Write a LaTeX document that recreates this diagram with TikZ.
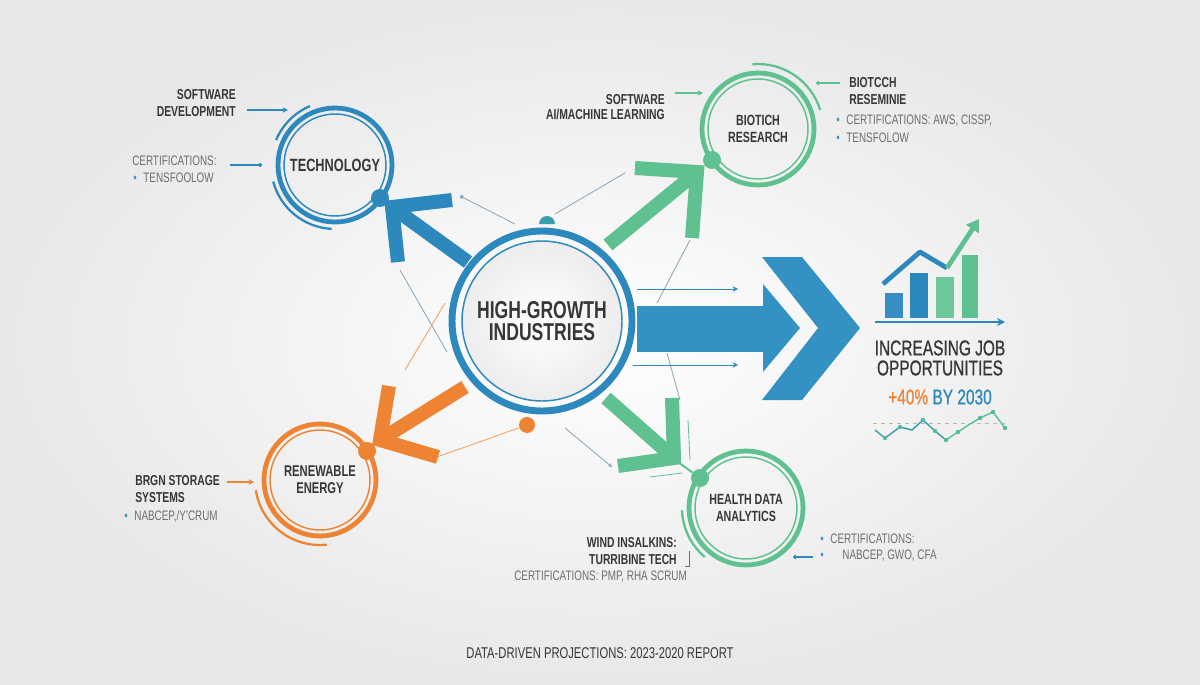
\documentclass[tikz,border=0pt]{standalone}
\usepackage{fontspec}
\setmainfont[FakeStretch=0.72]{Liberation Sans}
\usetikzlibrary{arrows.meta,positioning}
\definecolor{techblue}{RGB}{45,136,190}
\definecolor{bigblue}{RGB}{51,145,196}
\definecolor{biogreen}{RGB}{94,193,143}
\definecolor{energyorange}{RGB}{238,132,51}
\definecolor{inkgray}{RGB}{55,55,55}
\definecolor{softgray}{RGB}{110,110,110}
\definecolor{dotteal}{RGB}{58,158,176}
\definecolor{wiregray}{RGB}{135,165,185}
\definecolor{bggray}{RGB}{232,232,232}
\newcommand{\bul}{\textcolor{dotteal}{\textbullet}}

\begin{document}
\begin{tikzpicture}[x=0.75pt,y=-0.75pt,
    ring/.style={circle,draw=#1,line width=3.6pt,inner sep=0,align=center},
    innerring/.style={draw=#1,line width=1.1pt},
    halo/.style={draw=#1,line width=1.7pt},
    fatarrow/.style={draw=#1,line width=10.5pt,miter limit=6},
    wire/.style={draw=#1,line width=0.6pt},
    hubdot/.style={circle,fill=#1,minimum size=13.5pt,inner sep=0},
    heading/.style={font=\bfseries\fontsize{10.8}{12.6}\selectfont,text=inkgray,inner sep=0},
    cert/.style={font=\fontsize{10.3}{12.6}\selectfont,text=softgray,inner sep=0},
    circtext/.style={font=\bfseries\fontsize{11.1}{13}\selectfont,text=inkgray},
    charttext/.style={font=\addfontfeature{FakeBold=0.8}\fontsize{16.1}{15}\selectfont}
  ]
  % background
  \shade[inner color=white!97!bggray,outer color=bggray] (0,0) rectangle (1200,685);
  \useasboundingbox (0,0) rectangle (1200,685);

  % thin decorative wires
  \draw[wire=wiregray,{Circle[length=3pt]}-] (460,196) -- (515,224);
  \draw[wire=wiregray] (555,214) -- (625,173);
  \draw[wire=wiregray] (400,270) -- (447,352);
  \draw[wire=energyorange!80] (445,303) -- (405,370);
  \draw[wire=wiregray] (690,240) -- (657,303);
  \draw[wire=wiregray] (667,353) -- (680,400);
  \draw[wire=wiregray,-{Stealth[length=3pt,width=3pt]}] (565,428) -- (612,467);
  \draw[wire=biogreen] (688,420) -- (690,460);
  \draw[wire=biogreen] (650,477) -- (682,473);
  \draw[wire=techblue,-{Stealth[length=4pt,width=4pt]}] (637,289) -- (738,289);
  \draw[wire=techblue,-{Stealth[length=4pt,width=4pt]}] (633,365) -- (738,365);

  % central hub
  \shade[inner color=white,outer color=bggray!80] (542,321) circle[radius=80];
  \node[ring=techblue,line width=5.2pt,minimum size=135pt] (hub) at (542,321) {};
  \draw[innerring=techblue] (hub.center) circle[radius=80];
  \node[font=\bfseries\fontsize{18.3}{16.5}\selectfont,text=inkgray,align=center]
    at (hub.center) {HIGH-GROWTH\\INDUSTRIES};
  \fill[dotteal] (539,224) arc[start angle=180,end angle=360,radius=8] -- cycle;
  \node[hubdot=energyorange,minimum size=12pt] (odot) at (527,425) {};
  \draw[wire=energyorange!80] (odot) -- (437,457);

  % big arrow to the right
  \fill[bigblue] (637,306) rectangle (765,352);
  \fill[bigblue] (763,284) -- (800,328) -- (763,372) -- cycle;
  \fill[bigblue] (762,257) -- (802,257) -- (860,328) -- (802,400) -- (762,400) -- (818,328) -- cycle;

  % technology
  \node[ring=techblue,minimum size=85.5pt,circtext,font=\bfseries\fontsize{13.3}{14}\selectfont] (tech) at (335,165) {TECHNOLOGY};
  \draw[innerring=techblue] (tech.center) circle[radius=51];
  \draw[halo=techblue] (tech.center) ++(203:64) arc[start angle=203,end angle=247,radius=64];
  \draw[halo=techblue] (tech.center) ++(93:64) arc[start angle=93,end angle=165,radius=64];
  \draw[fatarrow=techblue] (468,262) -- (392,207);
  \draw[fatarrow=techblue] (452,200) -- (392,207) -- (398,262);
  \node[hubdot=techblue] at (380,198) {};
  \node[heading,align=right,anchor=east] (techsw) at (236,103) {SOFTWARE\\DEVELOPMENT};
  \draw[wire=techblue,line width=0.9pt,-{Stealth[length=4pt,width=4pt]}] (247,110) -- (288,110);
  \node[cert,anchor=west] (techcert) at (132,161) {CERTIFICATIONS:};
  \node[cert,anchor=west] at (133,178) {\bul\hspace{5pt}TENSFOOLOW};
  \draw[wire=techblue,line width=0.9pt,-{Circle[length=3pt]}] (230,165) -- (262,165);

  % biotech
  \node[ring=biogreen,minimum size=84pt,circtext] (bio) at (758,129) {BIOTICH\\RESEARCH};
  \draw[innerring=biogreen] (bio.center) circle[radius=50];
  \draw[halo=biogreen] (bio.center) ++(265:65) arc[start angle=265,end angle=343,radius=65];
  \draw[fatarrow=biogreen] (608,245) -- (697,172);
  \draw[fatarrow=biogreen] (635,168) -- (697,172) -- (692,238);
  \node[hubdot=biogreen] at (712,160) {};
  \node[heading,align=right,anchor=east,font=\bfseries\fontsize{10.8}{11.3}\selectfont] (biosw) at (665,107) {SOFTWARE\\AI/MACHINE LEARNING};
  \draw[wire=biogreen,line width=0.9pt,-{Stealth[length=4pt,width=4pt]}] (675,93) -- (703,93);
  \node[heading,align=left,anchor=west] (biores) at (849,91) {BIOTCCH\\RESEMINIE};
  \draw[wire=biogreen,line width=0.9pt,-{Circle[length=3pt]}] (840,83) -- (816,83);
  \node[cert,anchor=west] at (836,121) {\bul\hspace{5pt}CERTIFICATIONS: AWS, CISSP,};
  \node[cert,anchor=west] at (836,138) {\bul\hspace{5pt}TENSFOLOW};

  % renewable energy
  \node[ring=energyorange,minimum size=84pt,circtext,font=\bfseries\fontsize{11.7}{12.5}\selectfont] (energy) at (320,480) {RENEWABLE\\ENERGY};
  \draw[innerring=energyorange] (energy.center) circle[radius=50];
  \draw[halo=energyorange] (energy.center) ++(84:65) arc[start angle=84,end angle=171,radius=65];
  \draw[fatarrow=energyorange] (465,387) -- (380,440);
  \draw[fatarrow=energyorange] (389,386) -- (380,440) -- (438,457);
  \node[hubdot=energyorange] at (367,451) {};
  \node[heading,align=left,anchor=west] (energysys) at (135,489) {BRGN STORAGE\\SYSTEMS};
  \draw[wire=energyorange,line width=0.9pt,-{Stealth[length=4pt,width=4pt]}] (227,482) -- (254,482);
  \node[cert,anchor=west] at (124,516) {\bul\hspace{5pt}NABCEP,/Y'CRUM};

  % health data
  \node[ring=biogreen,minimum size=85.5pt,circtext] (health) at (746,508) {HEALTH DATA\\ANALYTICS};
  \draw[innerring=biogreen] (health.center) circle[radius=51];
  \draw[halo=biogreen] (health.center) ++(130:64) arc[start angle=130,end angle=178,radius=64];
  \draw[fatarrow=biogreen] (606,398) -- (674,458);
  \draw[fatarrow=biogreen] (672,398) -- (674,458) -- (618,466);
  \node[hubdot=biogreen] (hdot) at (700,478) {};
  \draw[biogreen,line width=1.5pt] (678,462) -- (hdot);
  \node[heading,align=right,anchor=east] (healthwind) at (677,551) {WIND INSALKINS:\\TURRIBINE TECH};
  \draw[softgray,line width=0.7pt] (689,551) -- (689,566) -- (685,566);
  \node[cert,anchor=west] at (514,577) {CERTIFICATIONS: PMP, RHA SCRUM};
  \node[cert,anchor=west] at (820,539) {\bul\hspace{5pt}CERTIFICATIONS:};
  \node[cert,anchor=west] at (820,556) {\bul\hspace{14pt}NABCEP, GWO, CFA};
  \draw[wire=techblue,line width=0.9pt,-{Circle[length=3pt]}] (813,557) -- (793,557);

  % growth chart
  \fill[techblue!95] (885,293) rectangle (903,318);
  \fill[techblue] (910,273) rectangle (928,318);
  \fill[biogreen!90] (936,277) rectangle (954,318);
  \fill[biogreen] (962,255) rectangle (978,318);
  \draw[techblue,line width=1.9pt,-{Stealth[length=6pt,width=6pt]}] (875,322) -- (1005,322);
  \draw[techblue,line width=3.6pt,line join=round] (883,284) -- (920,252) -- (947,268);
  \draw[biogreen,line width=3.6pt,-{Triangle[length=9pt,width=11pt]}] (947,268) -- (979,219);
  \node[charttext,text=inkgray,align=center] (jobs) at (940,358) {INCREASING JOB\\OPPORTUNITIES};
  \node[charttext] (growth) at (940,397) {\textcolor{energyorange}{+40\%} \textcolor{techblue}{BY 2030}};
  \draw[softgray!50,dashed,line width=0.5pt] (873,423) -- (1005,423);
  \draw[dotteal,line width=1.1pt] (875,430) -- (885,438) -- (900,427) -- (912,430) -- (923,420) -- (935,431) -- (946,440);
  \draw[biogreen,line width=1.1pt] (946,440) -- (958,432) -- (970,424) -- (980,418) -- (993,412) -- (1005,428);
  \foreach \px/\py in {885/438,900/427,923/420,935/431,946/440,958/432,980/418,993/412,1005/428}
    \fill[biogreen!80!dotteal] (\px,\py) circle[radius=2.2];

  % footer
  \node[font=\fontsize{11.7}{12}\selectfont,text=inkgray] (footer) at (600,653) {DATA-DRIVEN PROJECTIONS: 2023-2020 REPORT};
\end{tikzpicture}
\end{document}
